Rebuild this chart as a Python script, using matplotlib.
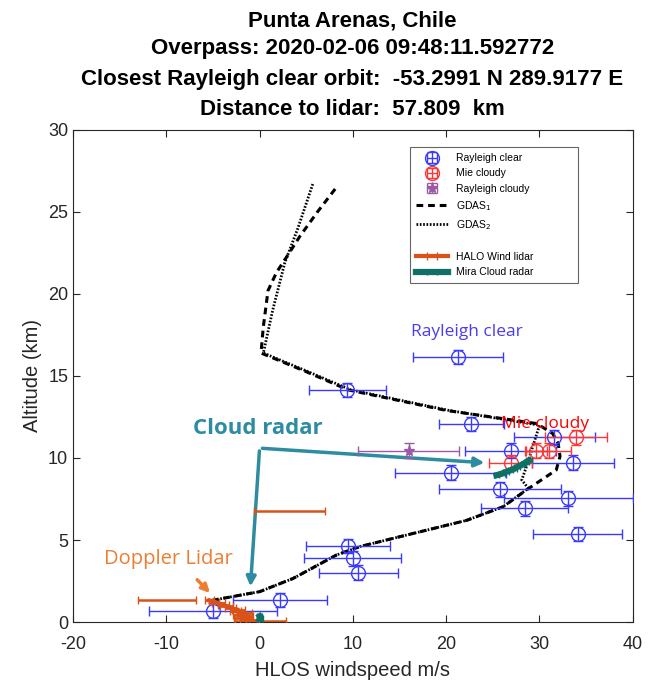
import matplotlib.pyplot as plt
from matplotlib.lines import Line2D
import numpy as np

plt.rcParams['font.family'] = ['Liberation Sans', 'DejaVu Sans']
plt.rcParams['axes.unicode_minus'] = False

# Aeolus Rayleigh clear winds
rc_ws = [21.25, 9.4, 22.7, 31.6, 26.9, 33.6, 20.5, 25.75, 33.1, 28.4, 34.1, 9.5, 9.96, 10.6, 2.2, -5.0]
rc_alt = [16.16, 14.15, 12.07, 11.26, 10.45, 9.71, 9.1, 8.09, 7.54, 6.93, 5.37, 4.63, 3.88, 3.0, 1.34, 0.69]
rc_err = [4.8, 4.1, 3.45, 4.35, 4.85, 4.4, 5.95, 6.55, 6.9, 4.65, 4.75, 4.5, 5.15, 4.2, 5.0, 6.9]

# Mie cloudy
mc_ws = [33.9, 29.6, 31.0, 26.9]
mc_alt = [11.26, 10.45, 10.45, 9.71]
mc_err = [3.3, 1.2, 2.4, 2.35]

# Rayleigh cloudy
rcl_ws = [16.0]
rcl_alt = [10.45]
rcl_err = [5.4]

# GDAS profiles
gdas1_alt = [26.4, 25.0, 23.5, 22.7, 21.3, 20.2, 18.0, 16.4, 15.26, 14.15, 12.9, 12.1, 11.5, 10.9, 10.1, 9.27,
             8.05, 7.03, 6.2, 5.1, 4.6, 4.09, 2.66, 1.85, 1.75, 1.3]
gdas1_ws = [8.1, 6.2, 4.3, 3.4, 1.8, 0.9, 0.4, 0.15, 5.0, 9.5, 20.0, 29.7, 31.4, 32.0, 32.2, 31.8,
            28.6, 26.1, 22.2, 14.3, 10.75, 8.25, 3.6, 0.0, -1.0, -5.3]
gdas2_alt = [26.7, 24.0, 21.9, 19.0, 16.4, 15.26, 14.15, 12.9, 12.0, 9.47, 8.66, 8.15,
             7.03, 6.2, 5.1, 4.6, 4.09, 2.66, 1.85, 1.75, 1.3]
gdas2_ws = [5.7, 4.1, 2.7, 1.4, 0.4, 5.2, 9.8, 20.3, 30.0, 28.6, 28.1, 28.8,
            26.1, 22.2, 14.3, 10.75, 8.25, 3.6, 0.0, -1.0, -5.3]

# HALO wind lidar
halo_alt = [0.05, 0.15, 0.25, 0.35, 0.45, 0.55, 0.65, 0.75, 0.85, 0.95, 1.05, 1.15, 1.25, 1.32]
halo_ws = [-1.2, -0.8, -1.9, -1.3, -2.2, -1.6, -2.6, -2.3, -3.1, -3.5, -3.9, -4.4, -4.9, -5.4]
halo_err = [0.9, 0.7, 0.8, 0.6, 0.7, 0.8, 0.6, 0.7, 0.6, 0.7, 0.6, 0.7, 0.5, 0.5]
halo_out_ws = [-9.9, 0.1, 3.2]
halo_out_alt = [1.32, 0.08, 6.75]
halo_out_err = [3.1, 2.7, 3.8]

# Mira cloud radar
mira_alt = [8.95, 9.05, 9.15, 9.25, 9.35, 9.45, 9.55, 9.65, 9.75, 9.85, np.nan, 0.15, 0.25, 0.35]
mira_ws = [25.4, 26.0, 26.4, 26.9, 27.3, 27.6, 28.0, 28.3, 28.6, 28.9, np.nan, 0.0, 0.1, 0.0]

blue = '#3a3aff'
red = '#ff3535'
purple = '#9b59a6'
orange = '#d95319'
teal = '#0f7066'

fig = plt.figure(figsize=(6.49, 6.91), dpi=100)
ax = fig.add_axes([0.1125, 0.0998, 0.8625, 0.7122])

h_rc = ax.errorbar(rc_ws, rc_alt, xerr=rc_err, yerr=0.45, fmt='o', color=blue, mfc='none',
                   ms=10, capsize=3.5, lw=1, zorder=4)
h_mc = ax.errorbar(mc_ws, mc_alt, xerr=mc_err, yerr=0.45, fmt='o', color=red, mfc='none',
                   ms=10, capsize=3.5, lw=1, zorder=4)
h_rcl = ax.errorbar(rcl_ws, rcl_alt, xerr=rcl_err, yerr=0.45, fmt='*', color=purple,
                    ms=8, capsize=3.5, lw=1, zorder=4)
h_g1, = ax.plot(gdas1_ws, gdas1_alt, color='black', lw=2.2, dashes=(2.2, 1.6), zorder=3)
h_g2, = ax.plot(gdas2_ws, gdas2_alt, color='black', lw=2.0, dashes=(0.6, 0.6), zorder=3)

h_halo = ax.errorbar(halo_ws, halo_alt, xerr=halo_err, fmt='-', color=orange, lw=3,
                     elinewidth=2, capsize=3, zorder=5)
ax.errorbar(halo_out_ws, halo_out_alt, xerr=halo_out_err, fmt='none', ecolor=orange,
            elinewidth=1.8, capsize=3, zorder=5)
h_mira = ax.errorbar(mira_ws, mira_alt, xerr=0.3, fmt='-', color=teal, lw=4.5,
                     elinewidth=2, capsize=2, zorder=6)

# annotations
ax.text(22.2, 17.7, 'Rayleigh clear', color='#4b3cf0', fontsize=12.5, ha='center', va='center',
        family='Open Sans')
ax.text(30.6, 12.05, 'Mie cloudy', color='red', fontsize=12.5, ha='center', va='center',
        family='Open Sans')
ax.text(-0.2, 11.8, 'Cloud radar', color='#2e8ca0', fontsize=16, fontweight='bold',
        ha='center', va='center', family='Open Sans')
ax.text(-9.8, 3.85, 'Doppler Lidar', color='#ed7d31', fontsize=14.5, ha='center', va='center',
        family='Open Sans')

ax.annotate('', xy=(-1.0, 2.0), xytext=(0.0, 10.6),
            arrowprops=dict(arrowstyle='-|>', color='#2e8ca0', lw=2.5, mutation_scale=14))
ax.annotate('', xy=(24.4, 9.7), xytext=(0.0, 10.6),
            arrowprops=dict(arrowstyle='-|>', color='#2e8ca0', lw=2.5, mutation_scale=14))
ax.annotate('', xy=(-5.1, 1.65), xytext=(-6.9, 2.7),
            arrowprops=dict(arrowstyle='-|>', color='#ed7d31', lw=2.5, mutation_scale=12))

ax.set_xlim(-20, 40)
ax.set_ylim(0, 30)
ax.set_xticks([-20, -10, 0, 10, 20, 30, 40])
ax.set_yticks([0, 5, 10, 15, 20, 25, 30])
ax.tick_params(direction='in', top=True, right=True, labelsize=13, length=5, colors='#262626')
ax.tick_params(axis='x', pad=10)
for s in ax.spines.values():
    s.set_color('#262626')
ax.set_xlabel('HLOS windspeed m/s', fontsize=14.5, color='#262626', labelpad=6)
ax.set_ylabel('Altitude (km)', fontsize=14.5, color='#262626')

blank = Line2D([], [], linestyle='none')
leg = ax.legend([h_rc, h_mc, h_rcl, h_g1, h_g2, blank, h_halo, h_mira],
                ['Rayleigh clear', 'Mie cloudy', 'Rayleigh cloudy', 'GDAS$_1$', 'GDAS$_2$', '',
                 'HALO Wind lidar', 'Mira Cloud radar'],
                loc='upper left', bbox_to_anchor=(0.593, 0.976, 0.318, 0.0), mode='expand',
                fontsize=7.5, frameon=True, fancybox=False, edgecolor='#404040',
                handlelength=3.0, labelspacing=0.5, borderpad=0.6)
leg.get_frame().set_linewidth(0.8)

titles = ['Punta Arenas, Chile', 'Overpass: 2020-02-06 09:48:11.592772',
          'Closest Rayleigh clear orbit:  -53.2991 N 289.9177 E', 'Distance to lidar:  57.809  km']
ys = [0.969, 0.930, 0.885, 0.842]
for t, y in zip(titles, ys):
    fig.text(0.543, y, t, ha='center', va='center', fontsize=16, fontweight='bold', color='black')

fig.savefig('out.png', dpi=100)
